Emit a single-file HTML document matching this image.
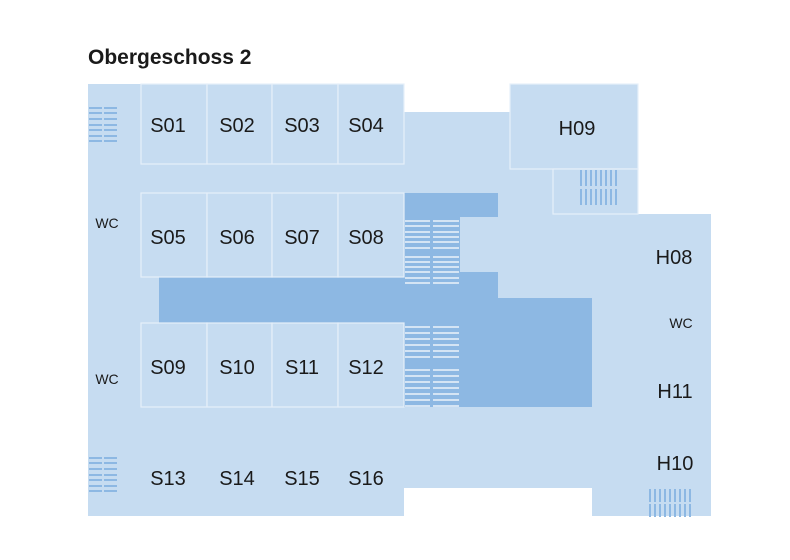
<!DOCTYPE html>
<html><head><meta charset="utf-8"><style>
html,body{margin:0;padding:0;background:#fff;}
svg{display:block;font-family:"Liberation Sans",Arial,sans-serif;}
</style></head><body>
<svg width="790" height="560" viewBox="0 0 790 560" xmlns="http://www.w3.org/2000/svg">
<defs><g id="pr"><rect x="405" y="0" width="25" height="2"/><rect x="433" y="0" width="26" height="2"/></g></defs>
<rect width="790" height="560" fill="#fff"/>
<text x="88" y="64" font-size="21" font-weight="bold" fill="#1a1a1a">Obergeschoss 2</text>
<g fill="#c6dcf1">
<rect x="88" y="84" width="316" height="432"/>
<rect x="404" y="112" width="149" height="376"/>
<rect x="510" y="84" width="128" height="130"/>
<rect x="404" y="214" width="307" height="274"/>
<rect x="592" y="214" width="119" height="302"/>
</g>
<g fill="#8db8e3">
<rect x="404" y="193" width="94" height="24"/>
<rect x="404" y="217" width="56" height="55"/>
<rect x="159" y="272" width="339" height="51"/>
<rect x="404" y="298" width="188" height="109"/>
<rect x="404" y="323" width="94" height="84"/>
</g>
<g fill="#c6dcf1" stroke="#e6eff9" stroke-width="1.2">
<rect x="141" y="84" width="66" height="80"/><rect x="207" y="84" width="65" height="80"/><rect x="272" y="84" width="66" height="80"/><rect x="338" y="84" width="66" height="80"/>
<rect x="141" y="193" width="66" height="84"/><rect x="207" y="193" width="65" height="84"/><rect x="272" y="193" width="66" height="84"/><rect x="338" y="193" width="66" height="84"/>
<rect x="141" y="323" width="66" height="84"/><rect x="207" y="323" width="65" height="84"/><rect x="272" y="323" width="66" height="84"/><rect x="338" y="323" width="66" height="84"/>
<rect x="510" y="84" width="128" height="85"/>
<rect x="553" y="169" width="85" height="45"/>
</g>
<g fill="#d4e4f4">
<use href="#pr" y="220"/><use href="#pr" y="225"/><use href="#pr" y="231"/><use href="#pr" y="236"/><use href="#pr" y="241"/><use href="#pr" y="247"/>
<use href="#pr" y="256"/><use href="#pr" y="261"/><use href="#pr" y="266"/><use href="#pr" y="271"/><use href="#pr" y="277"/><use href="#pr" y="282"/>
<use href="#pr" y="326"/><use href="#pr" y="332"/><use href="#pr" y="338"/><use href="#pr" y="344"/><use href="#pr" y="350"/><use href="#pr" y="356"/>
<use href="#pr" y="369"/><use href="#pr" y="375"/><use href="#pr" y="381"/><use href="#pr" y="387"/><use href="#pr" y="393"/><use href="#pr" y="399"/><use href="#pr" y="405"/>
</g>
<g fill="#8db8e3">
<g id="ls">
<rect x="89" y="107" width="13" height="2"/><rect x="104" y="107" width="13" height="2"/>
<rect x="89" y="112" width="13" height="2"/><rect x="104" y="112" width="13" height="2"/>
<rect x="89" y="118" width="13" height="2"/><rect x="104" y="118" width="13" height="2"/>
<rect x="89" y="124" width="13" height="2"/><rect x="104" y="124" width="13" height="2"/>
<rect x="89" y="129" width="13" height="2"/><rect x="104" y="129" width="13" height="2"/>
<rect x="89" y="135" width="13" height="2"/><rect x="104" y="135" width="13" height="2"/>
<rect x="89" y="140" width="13" height="2"/><rect x="104" y="140" width="13" height="2"/>
</g>
<use href="#ls" transform="translate(0,350)"/>
<g id="vs">
<rect x="580" y="170" width="2" height="16"/><rect x="585" y="170" width="2" height="16"/><rect x="590" y="170" width="2" height="16"/><rect x="595" y="170" width="2" height="16"/><rect x="600" y="170" width="2" height="16"/><rect x="605" y="170" width="2" height="16"/><rect x="610" y="170" width="2" height="16"/><rect x="615" y="170" width="2" height="16"/>
</g>
<use href="#vs" transform="translate(0,19)"/>
<g id="hs">
<rect x="649" y="489" width="2" height="13"/><rect x="654" y="489" width="2" height="13"/><rect x="659" y="489" width="2" height="13"/><rect x="664" y="489" width="2" height="13"/><rect x="669" y="489" width="2" height="13"/><rect x="674" y="489" width="2" height="13"/><rect x="679" y="489" width="2" height="13"/><rect x="684" y="489" width="2" height="13"/><rect x="689" y="489" width="2" height="13"/>
</g>
<use href="#hs" transform="translate(0,15)"/>
</g>
<g font-size="20" fill="#1a1a1a" text-anchor="middle">
<text x="168" y="132">S01</text><text x="237" y="132">S02</text><text x="302" y="132">S03</text><text x="366" y="132">S04</text>
<text x="168" y="244">S05</text><text x="237" y="244">S06</text><text x="302" y="244">S07</text><text x="366" y="244">S08</text>
<text x="168" y="374">S09</text><text x="237" y="374">S10</text><text x="302" y="374">S11</text><text x="366" y="374">S12</text>
<text x="168" y="485">S13</text><text x="237" y="485">S14</text><text x="302" y="485">S15</text><text x="366" y="485">S16</text>
<text x="577" y="135">H09</text>
<text x="674" y="264">H08</text>
<text x="675" y="398">H11</text>
<text x="675" y="470">H10</text>
</g>
<g font-size="14" fill="#1a1a1a" text-anchor="middle">
<text x="107" y="228">WC</text>
<text x="107" y="384">WC</text>
<text x="681" y="328">WC</text>
</g>
</svg>
</body></html>
